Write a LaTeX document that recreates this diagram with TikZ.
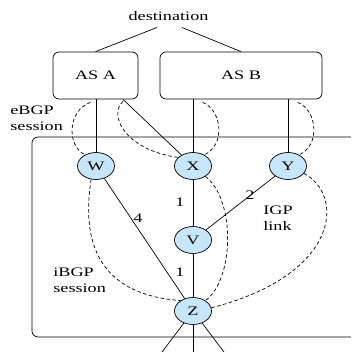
\documentclass[tikz,border=0pt]{standalone}
\usepackage{fontspec}
\setmainfont[FakeStretch=1.4]{Liberation Serif}
\usetikzlibrary{shapes.geometric,calc}
\definecolor{nodeblue}{RGB}{200,230,250}
\begin{document}
\begin{tikzpicture}[x=1pt,y=-1pt,
  font=\fontsize{13}{16}\selectfont,
  line width=0.7pt,
  router/.style={ellipse, draw, fill=nodeblue, minimum width=37pt, minimum height=27pt, inner sep=0pt},
  asbox/.style={draw, rounded corners=6pt, inner sep=0pt},
  sess/.style={dash pattern=on 3.5pt off 2.5pt},
  lbl/.style={inner sep=0pt, align=left, anchor=west}]
\clip (0,0) rectangle (351,352);
\useasboundingbox (0,0) rectangle (351,352);

% boxes
\node[asbox, minimum width=330pt, minimum height=200pt] (net) at (197,237) {};
\node[asbox, minimum width=85pt, minimum height=47pt] (asA) at (95.5,75.5) {AS A};
\node[asbox, minimum width=162pt, minimum height=47pt] (asB) at (241,75.5) {AS B};
\node[inner sep=0pt, anchor=base] (dest) at (168.5,21) {destination};

% routers
\node[router] (W) at (96,166) {W};
\node[router] (X) at (193,166) {X};
\node[router] (Y) at (288,166) {Y};
\node[router] (V) at (193,240) {V};
\node[router] (Z) at (193,311) {Z};

% helper coordinates
\coordinate (d1) at ($(dest.south)+(-11.5,6)$);
\coordinate (d2) at ($(dest.south)+(13.5,6)$);
\coordinate (aX) at ($(asA.south)+(27.5,0)$);
\coordinate (e1) at ($(asA.south)+(-5,3)$);
\coordinate (e2) at ($(asA.south)+(27.5,2)$);
\coordinate (e3) at ($(asB.south west)+(43,3)$);
\coordinate (e4) at ($(asB.south west)+(138,3)$);
\coordinate (b1) at (156,360);
\coordinate (b2) at (193,360);
\coordinate (b3) at (230,360);

% solid links
\draw (d1) -- (asA.north);
\draw (d2) -- (asB.north);
\draw (W.north |- asA.south) -- (W.north);
\draw (aX) -- (X);
\draw (X.north |- asB.south) -- (X.north);
\draw (Y.north |- asB.south) -- (Y.north);
\draw (W) -- (Z);
\draw (X) -- (V);
\draw (V) -- (Z);
\draw (Y) -- (V);
\draw (Z) -- (b1);
\draw (Z) -- (b2);
\draw (Z) -- (b3);

% eBGP sessions
\draw[sess] (e1) .. controls (68,110) and (66,145) .. (W.135);
\draw[sess] (e2) .. controls (108,115) and (125,150) .. (X.150);
\draw[sess] (e3) .. controls (222,110) and (226,145) .. (X.45);
\draw[sess] (e4) .. controls (317,110) and (321,145) .. (Y.45);

% iBGP sessions
\draw[sess] (W.250) .. controls (80,250) and (105,295) .. (Z.140);
\draw[sess] (X.320) .. controls (236,200) and (234,280) .. (Z.40);
\draw[sess] (Y.335) .. controls (345,195) and (340,275) .. (Z.10);

% labels
\node[inner sep=0pt] (l1) at (180,202) {1};
\node[inner sep=0pt] (l4) at (138,218) {4};
\node[inner sep=0pt] (l2) at (250,195) {2};
\node[inner sep=0pt] (l1b) at (180,272) {1};
\node[lbl] (igp) at (263,218) {IGP\\link};
\node[lbl] (ibgp) at (53,280) {iBGP\\session};
\node[lbl] (ebgp) at (10,118) {eBGP\\session};
\end{tikzpicture}
\end{document}
